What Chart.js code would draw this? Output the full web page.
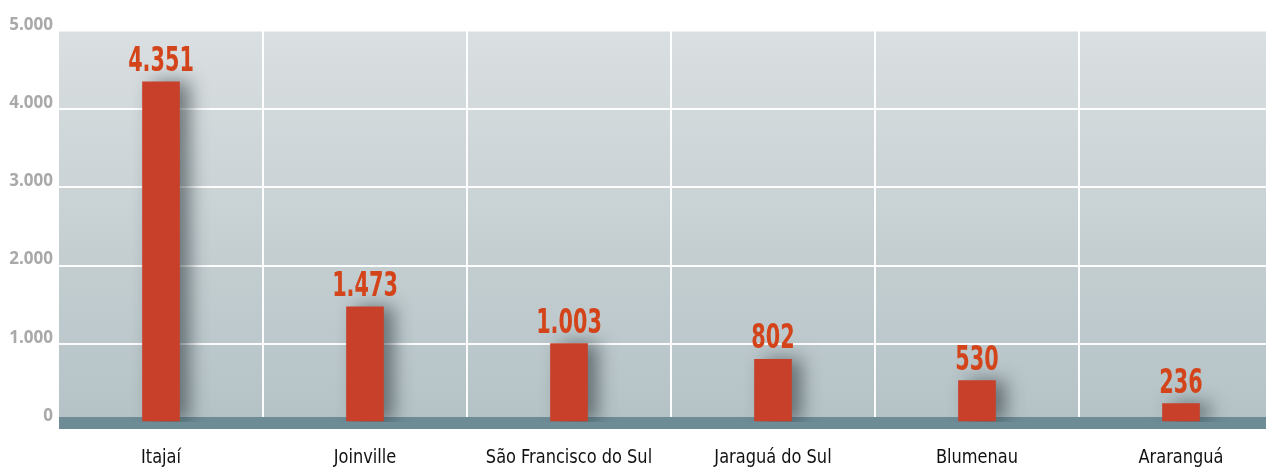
<!DOCTYPE html>
<html>
<head>
<meta charset="utf-8">
<script src="https://cdn.jsdelivr.net/npm/chart.js@4/dist/chart.umd.min.js"></script>
<style>
  html, body { margin: 0; padding: 0; background: #fff; overflow: hidden; }
  #wrap { position: relative; width: 1284px; height: 470px; }
</style>
</head>
<body>
<div id="wrap"><canvas id="myChart"></canvas></div>
<script>
// data
var cities = ['Itajaí', 'Joinville', 'São Francisco do Sul', 'Jaraguá do Sul', 'Blumenau', 'Araranguá']
var totals = [4351, 1473, 1003, 802, 530, 236]
var yTicks = [0, 1000, 2000, 3000, 4000, 5000]

var condensed = '"DejaVu Sans Condensed", "DejaVu Sans", sans-serif'

function fmt(n){
    return String(n).replace(/\B(?=(\d{3})+(?!\d))/g, '.')
}

// text squeezed sideways, the original uses a condensed face
function narrowText(ctx, txt, x, y, squeeze){
    ctx.save()
    ctx.translate(x, y)
    ctx.scale(squeeze, 1)
    ctx.fillText(txt, 0, 0)
    ctx.restore()
}

var backdrop = {
    id: 'backdrop',
    beforeDraw: function(chart){
        var a = chart.chartArea
        var ctx = chart.ctx
        var g = ctx.createLinearGradient(0, a.top, 0, a.bottom)
        g.addColorStop(0, '#dadfe1')
        g.addColorStop(1, '#b4c2c6')
        ctx.save()
        ctx.fillStyle = g
        ctx.fillRect(a.left, a.top, a.right - a.left, a.bottom - a.top)
        ctx.restore()
    },
    beforeDatasetsDraw: function(chart){
        var a = chart.chartArea
        var ctx = chart.ctx
        ctx.save()
        ctx.fillStyle = '#6d8c96'
        ctx.fillRect(a.left, a.bottom - 5, a.right - a.left, 12)
        ctx.restore()
        // soft shadow to the right of each bar
        ctx.save()
        ctx.shadowColor = 'rgba(45,55,60,0.6)'
        ctx.shadowBlur = 18
        ctx.shadowOffsetX = 10
        ctx.shadowOffsetY = 0
    },
    afterDatasetsDraw: function(chart){
        var ctx = chart.ctx
        ctx.restore()
        var meta = chart.getDatasetMeta(0)
        ctx.save()
        ctx.font = 'bold 33px ' + condensed
        ctx.fillStyle = '#d4441a'
        ctx.textAlign = 'center'
        ctx.textBaseline = 'alphabetic'
        meta.data.forEach(function(bar, i){
            narrowText(ctx, fmt(totals[i]), bar.x, bar.y - 11, 0.7)
        })
        ctx.restore()

        // category names under the base strip
        var xs = chart.scales.x
        ctx.save()
        ctx.font = '20px ' + condensed
        ctx.fillStyle = '#111'
        ctx.textAlign = 'center'
        ctx.textBaseline = 'alphabetic'
        cities.forEach(function(name, i){
            narrowText(ctx, name, xs.getPixelForValue(i), chart.chartArea.bottom + 41, 0.9)
        })
        ctx.restore()
    }
}

var myChart = document.getElementById('myChart').getContext('2d')
var cityChart = new Chart(myChart, {
    type: 'bar',
    data: {
        labels: cities,
        datasets: [{
            label: 'Total',
            data: totals,
            backgroundColor: '#c8402a',
            borderWidth: 0,
            barThickness: 37
        }]
    },
    options: {
        responsive: true,
        maintainAspectRatio: false,
        animation: false,
        layout: { padding: { top: 31, right: 1, bottom: 0, left: 0 } },
        plugins: {
            legend: { display: false },
            tooltip: { enabled: false }
        },
        scales: {
            x: {
                grid: {
                    offset: true,
                    drawTicks: false,
                    lineWidth: 2,
                    color: function(c){ return c.index === 0 ? 'rgba(0,0,0,0)' : 'rgba(255,255,255,0.95)' }
                },
                border: { display: false },
                ticks: { display: false },
                afterFit: function(s){ s.height = 48 }
            },
            y: {
                min: 0,
                max: 5000,
                afterBuildTicks: function(s){
                    s.ticks = yTicks.map(function(v){ return { value: v } })
                },
                grid: {
                    drawTicks: false,
                    lineWidth: 2,
                    color: function(c){ return c.tick && c.tick.value === 5000 ? 'rgba(255,255,255,0.5)' : 'rgba(255,255,255,0.95)' }
                },
                border: { display: false },
                ticks: {
                    color: '#a9a9a9',
                    padding: 6,
                    labelOffset: -6,
                    font: { family: '"Open Sans", sans-serif', size: 17, weight: 'bold' },
                    callback: function(v){ return fmt(v) }
                },
                afterFit: function(s){ s.width = 59 }
            }
        }
    },
    plugins: [backdrop]
})
</script>
</body>
</html>
